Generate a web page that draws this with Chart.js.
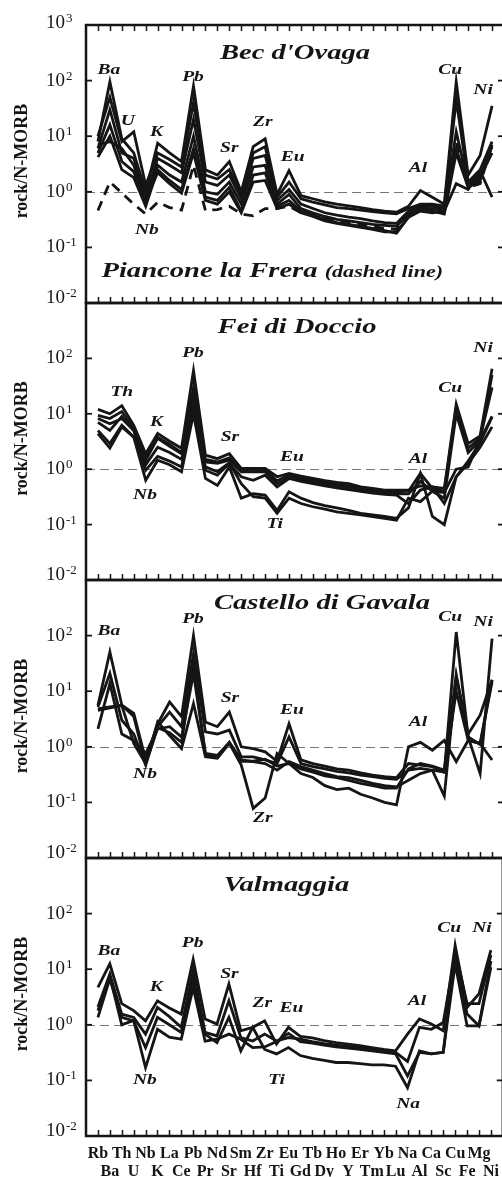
<!DOCTYPE html>
<html>
<head>
<meta charset="utf-8">
<title>rock/N-MORB spider diagrams</title>
<script src="https://cdn.jsdelivr.net/npm/chart.js@4.4.1/dist/chart.umd.min.js"></script>
<style>
  html, body { margin: 0; padding: 0; background: #fff; overflow: hidden; }
  #wrap { position: relative; width: 502px; height: 1177px; overflow: hidden; background: #fff; }
  #wrap canvas { position: absolute; left: 0; top: 0; }
</style>
</head>
<body>
<div id="wrap">
  <canvas id="p0" width="508" height="1177"></canvas>
  <canvas id="p1" width="508" height="1177"></canvas>
  <canvas id="p2" width="508" height="1177"></canvas>
  <canvas id="p3" width="508" height="1177"></canvas>
</div>
<script>
/* ---------- data ---------- */

const elements = ['Rb','Ba','Th','U','Nb','K','La','Ce','Pb','Pr','Nd','Sr','Sm','Hf','Zr','Ti','Eu',
  'Gd','Tb','Dy','Ho','Y','Er','Tm','Yb','Lu','Na','Al','Ca','Sc','Cu','Fe','Mg','Ni'];

const decadesTop = [3, 2, 1, 0, -1, -2];
const decades = [2, 1, 0, -1, -2];

// Bec d'Ovaga (solid) + Piancone la Frera (dashed)
const becLines = [
  [8, 95, 9, 5, 1.0, 7.5, 5, 3.5, 80, 2.5, 2.0, 3.5, 1.0, 6.5, 9, 0.9, 2.4, 0.85, 0.75, 0.66, 0.6, 0.56, 0.52, 0.48, 0.45, 0.43, 0.55, 1.05, 0.8, 0.6, 95, 2.0, 4.5, 35],
  [10, 50, 8, 12, 1.3, 5, 3.8, 2.8, 40, 2.0, 1.7, 2.5, 0.9, 5, 6.5, 0.8, 1.5, 0.75, 0.65, 0.58, 0.52, 0.5, 0.47, 0.44, 0.42, 0.4, 0.5, 0.6, 0.6, 0.55, 45, 1.5, 2.5, 8],
  [6, 30, 5, 4, 0.8, 4, 3, 2.2, 20, 1.5, 1.3, 2.0, 0.75, 4, 4.5, 0.7, 1.1, 0.6, 0.5, 0.42, 0.38, 0.35, 0.33, 0.3, 0.28, 0.27, 0.45, 0.55, 0.55, 0.5, 12, 1.4, 2.0, 6.5],
  [5, 16, 3.5, 2.3, 0.6, 3, 2.0, 1.5, 10, 1.0, 0.9, 1.5, 0.6, 2.8, 3, 0.6, 0.9, 0.5, 0.42, 0.36, 0.32, 0.3, 0.28, 0.26, 0.25, 0.24, 0.4, 0.5, 0.5, 0.45, 6, 1.3, 1.8, 5],
  [4.2, 10, 2.5, 1.8, 0.55, 2.5, 1.6, 1.1, 6, 0.8, 0.7, 1.2, 0.45, 2.0, 2.2, 0.55, 0.7, 0.45, 0.38, 0.32, 0.28, 0.26, 0.24, 0.22, 0.2, 0.18, 0.35, 0.5, 0.45, 0.4, 5, 1.2, 1.6, 7],
  [7, 8, 6, 3, 0.7, 2.2, 1.4, 0.95, 5, 0.7, 0.6, 1.0, 0.42, 1.5, 1.6, 0.5, 0.6, 0.42, 0.36, 0.3, 0.27, 0.25, 0.23, 0.21, 0.19, 0.19, 0.35, 0.45, 0.42, 0.45, 1.4, 1.1, 2.4, 0.8]
];
const pianconeLine = [0.46, 1.5, 0.95, 0.6, 0.4, 0.65, 0.52, 0.47, 3, 0.46, 0.48, 0.55, 0.4, 0.37, 0.5, 0.5, 0.55, 0.42, 0.38, 0.33, 0.3, 0.28, 0.26, 0.24, 0.22, 0.21, 0.35, 0.5, 0.6, 0.45, 8, 1.2, 1.4, 7];

// Fei di Doccio
const feiLines = [
  [12, 10, 14, 6.2, 1.9, 4.4, 3.2, 2.4, 60, 1.8, 1.55, 1.9, 1.03, 1.03, 1.03, 0.73, 0.84, 0.75, 0.68, 0.62, 0.58, 0.55, 0.48, 0.45, 0.42, 0.42, 0.42, 0.5, 0.48, 0.45, 15, 2.9, 4.0, 65],
  [9.4, 8.2, 11, 5.4, 1.6, 3.8, 2.8, 2.0, 30, 1.5, 1.35, 1.6, 0.95, 1.0, 0.95, 0.62, 0.78, 0.7, 0.63, 0.57, 0.53, 0.5, 0.45, 0.42, 0.4, 0.39, 0.4, 0.84, 0.45, 0.4, 13, 2.4, 3.6, 30],
  [8.2, 6.6, 8.2, 5, 1.45, 3.6, 2.6, 1.9, 20, 1.35, 1.27, 1.45, 0.9, 0.9, 0.9, 0.55, 0.7, 0.65, 0.58, 0.53, 0.49, 0.46, 0.42, 0.39, 0.37, 0.36, 0.36, 0.6, 0.4, 0.3, 10, 2.0, 3.3, 9],
  [5, 2.9, 6.2, 3.8, 0.96, 1.7, 1.4, 1.1, 15, 0.96, 0.78, 1.27, 0.73, 0.63, 0.78, 0.48, 0.68, 0.6, 0.55, 0.5, 0.46, 0.43, 0.4, 0.37, 0.35, 0.34, 0.24, 0.42, 0.48, 0.24, 0.73, 1.27, 2.5, 5.8],
  [4.4, 2.4, 5.8, 3.8, 0.63, 1.45, 1.2, 0.9, 10, 0.68, 0.51, 1.1, 0.3, 0.36, 0.34, 0.18, 0.39, 0.3, 0.25, 0.22, 0.2, 0.18, 0.16, 0.15, 0.14, 0.13, 0.2, 0.84, 0.14, 0.1, 0.73, 1.4, 3.0, 8.8],
  [7, 5, 9, 5, 1.2, 2.5, 2.0, 1.5, 12, 1.1, 0.9, 1.3, 0.55, 0.32, 0.3, 0.16, 0.3, 0.24, 0.21, 0.19, 0.17, 0.16, 0.15, 0.14, 0.13, 0.12, 0.3, 0.26, 0.4, 0.38, 1.0, 1.1, 3.5, 50]
];

// Castello di Gavala
const castelloLines = [
  [5.6, 51, 5.6, 4.0, 0.58, 2.6, 6.4, 3.5, 100, 2.8, 2.3, 4.2, 1.0, 0.93, 0.81, 0.55, 2.6, 0.58, 0.5, 0.45, 0.4, 0.38, 0.34, 0.31, 0.29, 0.28, 0.5, 0.47, 0.44, 0.35, 116, 1.5, 0.33, 88],
  [5.2, 21, 3, 1.7, 0.47, 2.3, 4.2, 2.3, 47, 1.86, 1.7, 2.0, 0.66, 0.66, 0.58, 0.5, 1.5, 0.5, 0.44, 0.4, 0.36, 0.34, 0.31, 0.29, 0.27, 0.26, 0.38, 0.41, 0.38, 0.13, 18, 1.7, 3.7, 16],
  [2.1, 13.7, 1.7, 1.3, 0.76, 2.1, 2.3, 1.5, 21, 0.76, 0.7, 1.2, 0.58, 0.54, 0.5, 0.38, 0.54, 0.44, 0.38, 0.33, 0.29, 0.28, 0.25, 0.22, 0.2, 0.19, 0.25, 0.33, 0.38, 0.35, 10, 1.3, 1.15, 16],
  [4.8, 5.2, 5.6, 3.5, 0.5, 2.8, 1.6, 0.93, 6, 0.66, 0.62, 1.15, 0.47, 0.078, 0.12, 0.76, 0.5, 0.33, 0.28, 0.2, 0.17, 0.18, 0.14, 0.12, 0.1, 0.09, 1.0, 1.2, 0.87, 1.3, 0.54, 1.3, 1.15, 0.58],
  [4.5, 5.0, 5.5, 1.15, 0.5, 2.2, 1.8, 1.2, 30, 0.7, 0.65, 1.2, 0.55, 0.55, 0.6, 0.45, 0.5, 0.4, 0.35, 0.3, 0.28, 0.25, 0.22, 0.2, 0.18, 0.18, 0.4, 0.5, 0.45, 0.38, 20, 1.5, 1.1, 15]
];

// Valmaggia
const valmaggiaLines = [
  [4.7, 12.5, 2.4, 1.8, 1.18, 2.7, 2.0, 1.56, 15, 1.27, 1.03, 5.4, 0.78, 0.9, 1.18, 0.45, 0.9, 0.62, 0.58, 0.52, 0.48, 0.45, 0.42, 0.39, 0.36, 0.34, 0.68, 1.27, 1.03, 0.78, 27, 2.06, 3.6, 22],
  [2.1, 8.2, 1.56, 1.36, 0.68, 2.06, 1.4, 0.9, 9.4, 0.73, 0.63, 2.7, 0.59, 0.51, 0.68, 0.51, 0.59, 0.55, 0.5, 0.46, 0.43, 0.41, 0.38, 0.36, 0.34, 0.32, 0.22, 0.9, 0.83, 1.1, 19, 1.56, 0.96, 14],
  [1.36, 6.7, 1.36, 1.18, 0.39, 1.36, 1.0, 0.73, 7.1, 0.68, 0.48, 1.36, 0.34, 0.9, 0.36, 0.3, 0.39, 0.28, 0.25, 0.23, 0.21, 0.21, 0.2, 0.19, 0.19, 0.18, 0.074, 0.34, 0.3, 0.32, 12.5, 0.96, 0.96, 10.8],
  [1.8, 7.5, 1.0, 1.2, 0.17, 0.83, 0.6, 0.55, 4.7, 0.51, 0.55, 0.68, 0.55, 0.39, 0.4, 0.5, 0.7, 0.5, 0.47, 0.43, 0.4, 0.38, 0.36, 0.34, 0.32, 0.3, 0.12, 0.32, 0.3, 0.32, 22, 2.4, 2.4, 18]
];

// element labels inside the panels: [text, element position, rock/N-MORB value]
const becNotes = [['Ba', 0.92, 155], ['U', 2.5, 18.6], ['K', 4.9, 11.8], ['Nb', 4.1, 0.204], ['Pb', 7.96, 115],
  ['Sr', 11.0, 6.0], ['Zr', 13.8, 17.8], ['Eu', 16.3, 4.2], ['Al', 26.8, 2.65], ['Cu', 29.5, 155], ['Ni', 32.25, 67]];
const feiNotes = [['Th', 2.0, 24.5], ['K', 4.9, 7.0], ['Nb', 3.94, 0.34], ['Pb', 7.96, 123], ['Sr', 11.05, 3.8],
  ['Eu', 16.25, 1.65], ['Ti', 14.8, 0.1], ['Al', 26.8, 1.5], ['Cu', 29.5, 29], ['Ni', 32.25, 151]];
const castelloNotes = [['Ba', 0.92, 118], ['Nb', 3.94, 0.32], ['Pb', 7.96, 195], ['Sr', 11.05, 7.6], ['Eu', 16.25, 4.5],
  ['Zr', 13.8, 0.052], ['Al', 26.8, 2.8], ['Cu', 29.5, 219], ['Ni', 32.25, 178]];
const valmaggiaNotes = [['Ba', 0.92, 21.5], ['K', 4.9, 4.8], ['Nb', 3.94, 0.1], ['Pb', 7.96, 29], ['Sr', 11.05, 8.3],
  ['Zr', 13.8, 2.5], ['Eu', 16.25, 2.0], ['Ti', 15.0, 0.102], ['Al', 26.8, 2.7], ['Na', 26.05, 0.038],
  ['Cu', 29.5, 54], ['Ni', 32.25, 54]];

/* ---------- drawing ---------- */

const INK = '#151515';
const SERIF = '"Liberation Serif", "Times New Roman", serif';
const STRETCH = 1.3;   // the original lettering is set wide

// panel frames, px from page top
const panelTop = [25, 303, 580, 858];
const panelBottom = [303, 580, 858, 1136];

function wideText(ctx, text, x, y, align) {
  ctx.save();
  ctx.translate(x, y);
  ctx.scale(STRETCH, 1);
  ctx.textAlign = align || 'center';
  ctx.fillText(text, 0, 0);
  ctx.restore();
}

const spiderPlugin = {
  id: 'spider',
  beforeDatasetsDraw(chart) {
    const { ctx, chartArea: a, scales: { y } } = chart;
    const y1 = Math.round(y.getPixelForValue(1)) + 0.5;
    ctx.save();
    ctx.strokeStyle = '#777';
    ctx.lineWidth = 1;
    ctx.setLineDash([9, 5]);
    ctx.beginPath(); ctx.moveTo(a.left, y1); ctx.lineTo(a.right, y1); ctx.stroke();
    ctx.restore();
  },
  afterDatasetsDraw(chart, args, o) {
    const { ctx, chartArea: a, scales: { x, y } } = chart;
    ctx.save();
    ctx.strokeStyle = INK;
    ctx.fillStyle = INK;

    // frame
    ctx.lineWidth = 2.5;
    ctx.strokeRect(a.left, a.top, a.right - a.left, a.bottom - a.top);

    // element ticks, pointing in
    ctx.lineWidth = 1.5;
    elements.forEach((el, i) => {
      const px = Math.round(x.getPixelForValue(i)) + 0.5;
      ctx.beginPath(); ctx.moveTo(px, a.bottom); ctx.lineTo(px, a.bottom - 6); ctx.stroke();
      if (o.topTicks) { ctx.beginPath(); ctx.moveTo(px, a.top); ctx.lineTo(px, a.top + 6); ctx.stroke(); }
    });

    // decade ticks + 10^n labels
    o.decades.forEach(d => {
      const py = y.getPixelForValue(Math.pow(10, d));
      ctx.lineWidth = 1.8;
      ctx.beginPath(); ctx.moveTo(a.left, py); ctx.lineTo(a.left + 6, py); ctx.stroke();
      ctx.beginPath(); ctx.moveTo(a.right, py); ctx.lineTo(a.right - 6, py); ctx.stroke();
      const cy = py + (d === -2 ? -5 : d === 3 ? -2 : 0);
      ctx.font = '19px ' + SERIF;
      ctx.textAlign = 'left';
      ctx.textBaseline = 'middle';
      ctx.fillText('10', 46, cy);
      const w = ctx.measureText('10').width;
      ctx.font = '13px ' + SERIF;
      ctx.textBaseline = 'alphabetic';
      ctx.fillText(String(d), 46 + w + 1, cy - 1);
    });

    // axis title
    ctx.save();
    ctx.translate(22, (a.top + a.bottom) / 2 - 3);
    ctx.rotate(-Math.PI / 2);
    ctx.font = 'bold 18px ' + SERIF;
    ctx.textAlign = 'center';
    ctx.textBaseline = 'middle';
    ctx.fillText('rock/N-MORB', 0, 0);
    ctx.restore();

    // element notes
    ctx.font = 'italic bold 15px ' + SERIF;
    ctx.textBaseline = 'middle';
    o.notes.forEach(([t, xi, v]) => wideText(ctx, t, x.getPixelForValue(xi), y.getPixelForValue(v)));

    // locality titles
    ctx.textBaseline = 'alphabetic';
    const [tt, tx, tv] = o.title;
    ctx.font = 'italic bold 22px ' + SERIF;
    wideText(ctx, tt, x.getPixelForValue(tx), y.getPixelForValue(tv));
    if (o.subtitle) {
      const [s1, s2, sx, sv] = o.subtitle;
      ctx.font = 'italic bold 22px ' + SERIF;
      const w1 = ctx.measureText(s1 + ' ').width * STRETCH;
      ctx.font = 'italic bold 17px ' + SERIF;
      const w2 = ctx.measureText(s2).width * STRETCH;
      const left = x.getPixelForValue(sx) - (w1 + w2) / 2;
      const by = y.getPixelForValue(sv);
      ctx.font = 'italic bold 22px ' + SERIF;
      wideText(ctx, s1, left, by, 'left');
      ctx.font = 'italic bold 17px ' + SERIF;
      wideText(ctx, s2, left + w1, by, 'left');
    }
    ctx.restore();
  }
};

function toPoints(values) {
  return values.map((v, i) => ({ x: i, y: v }));
}

function makePanel(id, idx, solid, dashed, opts) {
  const last = idx === 3;
  const datasets = solid.map(vals => ({
    data: toPoints(vals),
    borderColor: INK,
    borderWidth: 2.8,
    borderJoinStyle: 'miter',
    pointRadius: 0,
    tension: 0,
    fill: false
  }));
  if (dashed) {
    datasets.push({
      data: toPoints(dashed),
      borderColor: INK,
      borderWidth: 2.8,
      borderDash: [10, 7],
      pointRadius: 0,
      tension: 0,
      fill: false
    });
  }
  return new Chart(document.getElementById(id), {
    type: 'line',
    data: { datasets },
    plugins: [spiderPlugin],
    options: {
      responsive: false,
      animation: false,
      devicePixelRatio: 1,
      events: [],
      layout: { padding: { top: panelTop[idx], bottom: last ? 0 : 1177 - panelBottom[idx], left: 86, right: 4 } },
      scales: {
        x: {
          type: 'linear',
          min: -1,
          max: 34,
          display: last,
          grid: { display: false, drawTicks: false },
          border: { display: false },
          afterBuildTicks: s => { s.ticks = elements.map((_, i) => ({ value: i })); },
          afterFit: s => { s.height = last ? 1177 - panelBottom[3] : 0; },
          ticks: {
            autoSkip: false,
            maxRotation: 0,
            minRotation: 0,
            padding: 9,
            color: INK,
            font: { family: SERIF, size: 16, weight: 'bold', lineHeight: 1.1 },
            callback: v => {
              const name = elements[v];
              if (!name) return '';
              return v % 2 === 0 ? [name, ''] : ['', name];
            }
          }
        },
        y: {
          type: 'logarithmic',
          min: 0.01,
          max: 1000,
          display: false
        }
      },
      plugins: {
        legend: { display: false },
        tooltip: { enabled: false },
        spider: opts
      }
    }
  });
}

makePanel('p0', 0, becLines, pianconeLine, {
  decades: decadesTop, topTicks: true, notes: becNotes,
  title: ["Bec d'Ovaga", 16.5, 245],
  subtitle: ['Piancone la Frera', '(dashed line)', 14.6, 0.029]
});
makePanel('p1', 1, feiLines, null, {
  decades, topTicks: false, notes: feiNotes,
  title: ['Fei di Doccio', 16.67, 282]
});
makePanel('p2', 2, castelloLines, null, {
  decades, topTicks: false, notes: castelloNotes,
  title: ['Castello di Gavala', 18.76, 295]
});
makePanel('p3', 3, valmaggiaLines, null, {
  decades, topTicks: false, notes: valmaggiaNotes,
  title: ['Valmaggia', 15.83, 259]
});
</script>
</body>
</html>
